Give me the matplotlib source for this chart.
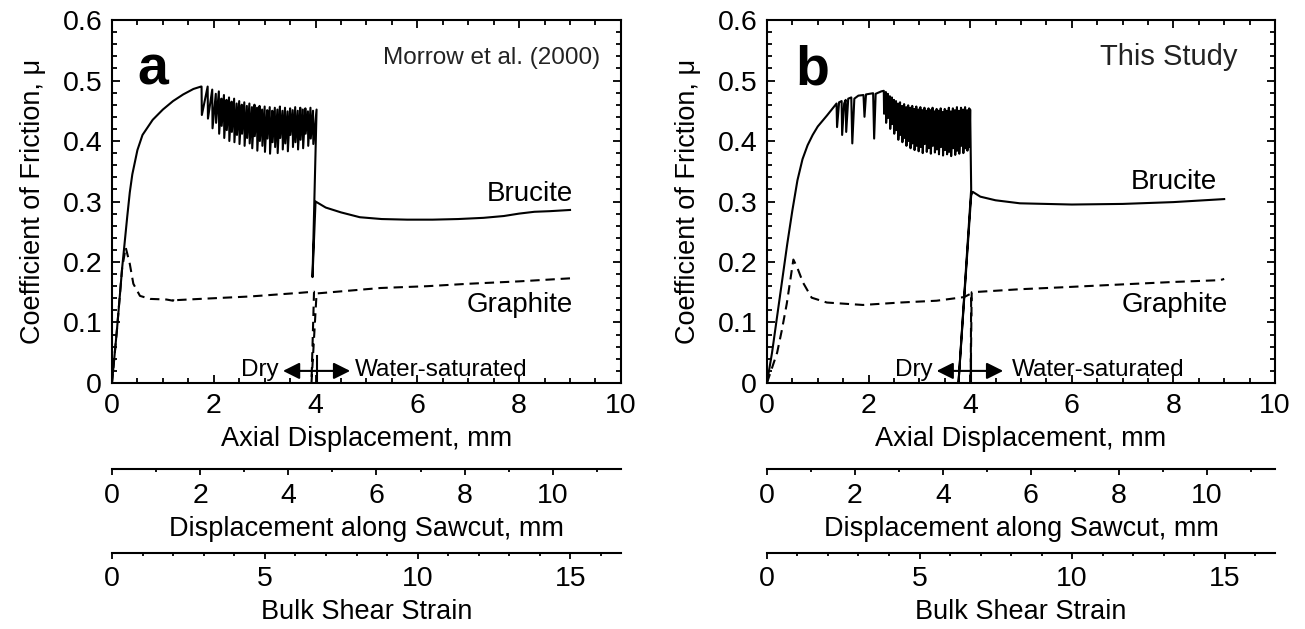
import matplotlib
matplotlib.use("Agg")
import matplotlib.pyplot as plt
import numpy as np
from matplotlib.ticker import MultipleLocator, FuncFormatter

plt.rcParams['font.family'] = ['Liberation Sans', 'DejaVu Sans']

# conversion factors for the extra scales under each panel
SAWCUT_PER_AXIAL = 1.0 / np.cos(np.radians(30))
STRAIN_PER_AXIAL = 1.665

# ---- panel a : Morrow et al. (2000) ----
A_BRU_DRY_X = [0.0, 0.1, 0.2, 0.3, 0.35, 0.4, 0.5, 0.6, 0.8, 1.0, 1.2, 1.4, 1.6, 1.75]
A_BRU_DRY_Y = [0.0, 0.09, 0.19, 0.275, 0.315, 0.345, 0.385, 0.41, 0.435, 0.452, 0.466, 0.477, 0.486, 0.49]

A_SLIP_X = [1.76, 1.88, 1.97, 2.04, 2.10, 2.15, 2.20, 2.25, 2.30, 2.35,
            2.40, 2.45, 2.50, 2.55, 2.60, 2.65, 2.70, 2.75, 2.80, 2.85,
            2.90, 2.95, 3.00, 3.05, 3.10, 3.15, 3.20, 3.25, 3.30, 3.35,
            3.40, 3.45, 3.50, 3.55, 3.60, 3.65, 3.70, 3.75, 3.80, 3.85,
            3.90, 3.95]
A_SLIP_TOP = [0.490, 0.490, 0.485, 0.478, 0.482, 0.470, 0.476, 0.468, 0.472, 0.465,
              0.470, 0.462, 0.466, 0.460, 0.464, 0.458, 0.462, 0.456, 0.460, 0.455,
              0.458, 0.452, 0.457, 0.451, 0.456, 0.450, 0.455, 0.452, 0.457, 0.450,
              0.455, 0.449, 0.454, 0.451, 0.456, 0.450, 0.455, 0.452, 0.454, 0.449,
              0.455, 0.450]
A_SLIP_LOW = [0.443, 0.437, 0.421, 0.430, 0.412, 0.425, 0.405, 0.418, 0.400, 0.415,
              0.398, 0.410, 0.395, 0.412, 0.392, 0.405, 0.396, 0.388, 0.408, 0.384,
              0.400, 0.392, 0.382, 0.404, 0.379, 0.398, 0.390, 0.380, 0.405, 0.386,
              0.396, 0.383, 0.410, 0.390, 0.398, 0.386, 0.402, 0.388, 0.412, 0.392,
              0.404, 0.395]

A_BRU_WET_X = [4.02, 3.94, 4.0, 4.2, 4.5, 4.87, 5.3, 5.8, 6.3, 6.8, 7.3, 7.7, 8.0, 8.3, 8.6, 9.0]
A_BRU_WET_Y = [0.452, 0.175, 0.30, 0.29, 0.282, 0.274, 0.271, 0.270, 0.270, 0.271, 0.273, 0.276, 0.280, 0.283, 0.284, 0.286]

A_GRA_X = [0.0, 0.1, 0.2, 0.27, 0.35, 0.42, 0.55, 0.75, 1.07, 1.2, 1.22, 1.27, 1.73, 2.71, 3.69, 3.97,
           3.92, 4.02, 5.27, 6.19, 7.0, 8.0, 9.0]
A_GRA_Y = [0.0, 0.09, 0.19, 0.224, 0.197, 0.164, 0.144, 0.139, 0.138, 0.136, 0.141, 0.137, 0.139, 0.143, 0.149, 0.151,
           0.0, 0.148, 0.157, 0.160, 0.164, 0.168, 0.173]

# ---- panel b : this study ----
B_BRU_DRY_X = [0.0, 0.1, 0.2, 0.3, 0.4, 0.5, 0.6, 0.7, 0.8, 0.9, 1.0, 1.18, 1.37]
B_BRU_DRY_Y = [0.0, 0.05, 0.11, 0.17, 0.23, 0.285, 0.335, 0.37, 0.393, 0.41, 0.424, 0.442, 0.462]

B_EARLY_X = [1.38, 1.42, 1.47, 1.48, 1.52, 1.55, 1.56, 1.60, 1.66, 1.68, 1.72, 1.80,
             1.90, 1.92, 1.95, 2.09, 2.11, 2.14, 2.25]
B_EARLY_Y = [0.423, 0.464, 0.466, 0.410, 0.462, 0.468, 0.415, 0.470, 0.472, 0.396, 0.470, 0.475,
             0.476, 0.440, 0.477, 0.479, 0.404, 0.478, 0.482]

B_SLIP_X = [2.30, 2.34, 2.38, 2.42, 2.46, 2.50, 2.54, 2.58, 2.62, 2.66,
            2.70, 2.74, 2.78, 2.82, 2.86, 2.90, 2.94, 2.98, 3.02, 3.06,
            3.10, 3.14, 3.18, 3.22, 3.26, 3.30, 3.34, 3.38, 3.42, 3.46,
            3.50, 3.54, 3.58, 3.62, 3.66, 3.70, 3.74, 3.78, 3.82, 3.86,
            3.90, 3.94, 3.98]
B_SLIP_TOP = [0.483, 0.481, 0.478, 0.474, 0.472, 0.468, 0.466, 0.462, 0.464, 0.458,
              0.461, 0.456, 0.459, 0.455, 0.458, 0.453, 0.457, 0.452, 0.456, 0.451,
              0.455, 0.450, 0.454, 0.451, 0.455, 0.449, 0.453, 0.450, 0.454, 0.448,
              0.453, 0.450, 0.455, 0.449, 0.454, 0.451, 0.456, 0.450, 0.455, 0.452,
              0.456, 0.451, 0.454]
B_SLIP_LOW = [0.445, 0.430, 0.438, 0.420, 0.428, 0.412, 0.418, 0.402, 0.410, 0.398,
              0.405, 0.392, 0.400, 0.388, 0.396, 0.385, 0.392, 0.383, 0.390, 0.380,
              0.395, 0.382, 0.388, 0.379, 0.392, 0.381, 0.386, 0.378, 0.390, 0.376,
              0.385, 0.378, 0.382, 0.375, 0.388, 0.377, 0.384, 0.379, 0.392, 0.380,
              0.388, 0.384, 0.390]

B_BRU_WET_X = [4.0, 4.02, 3.77, 4.02, 4.05, 4.2, 4.5, 4.98, 5.5, 6.0, 7.0, 8.0, 9.0]
B_BRU_WET_Y = [0.452, 0.32, 0.0, 0.31, 0.316, 0.308, 0.302, 0.297, 0.296, 0.295, 0.296, 0.299, 0.304]

B_GRA_X = [0.0, 0.1, 0.2, 0.29, 0.39, 0.52, 0.6, 0.71, 0.88, 1.18, 1.89, 2.62, 3.34, 3.88,
           4.02, 4.01, 4.03, 4.98, 5.77, 7.0, 8.0, 8.92, 9.0]
B_GRA_Y = [0.0, 0.025, 0.05, 0.086, 0.131, 0.204, 0.19, 0.166, 0.141, 0.133, 0.129, 0.133, 0.136, 0.142,
           0.148, 0.0, 0.15, 0.155, 0.158, 0.163, 0.167, 0.170, 0.172]


def stick_slip(xs, tops, lows):
    x, y = [], []
    for xi, top, low in zip(xs, tops, lows):
        x += [xi, xi + 0.006]
        y += [top, low]
    return x, y


def brucite_curve(dry_x, dry_y, extra_x, extra_y, slip, wet_x, wet_y):
    sx, sy = stick_slip(*slip)
    return (list(dry_x) + list(extra_x) + sx + list(wet_x),
            list(dry_y) + list(extra_y) + sy + list(wet_y))


def style_axes(ax):
    ax.set_xlim(0, 10)
    ax.set_ylim(0, 0.6)
    ax.xaxis.set_major_locator(MultipleLocator(2))
    ax.xaxis.set_minor_locator(MultipleLocator(0.5))
    ax.yaxis.set_major_locator(MultipleLocator(0.1))
    ax.yaxis.set_minor_locator(MultipleLocator(0.02))
    ax.yaxis.set_major_formatter(FuncFormatter(lambda v, p: '0' if abs(v) < 1e-9 else '%.1f' % v))
    ax.tick_params(which='both', direction='in', top=True, right=True, width=1.3, labelsize=20.5, pad=7)
    ax.tick_params(which='major', length=6)
    ax.tick_params(which='minor', length=3.3)
    for s in ax.spines.values():
        s.set_linewidth(1.5)
    ax.set_xlabel('Axial Displacement, mm', fontsize=19.5, labelpad=5)
    ax.set_ylabel('Coefficient of Friction, \u03bc', fontsize=19.5, labelpad=12)

    saw = ax.secondary_xaxis(-0.2376, functions=(lambda x: x * SAWCUT_PER_AXIAL,
                                                  lambda x: x / SAWCUT_PER_AXIAL))
    saw.set_xticks([0, 2, 4, 6, 8, 10])
    saw.xaxis.set_minor_locator(MultipleLocator(1))
    saw.set_xlabel('Displacement along Sawcut, mm', fontsize=19.5, labelpad=5)

    strain = ax.secondary_xaxis(-0.467, functions=(lambda x: x * STRAIN_PER_AXIAL,
                                                    lambda x: x / STRAIN_PER_AXIAL))
    strain.set_xticks([0, 5, 10, 15])
    strain.xaxis.set_minor_locator(MultipleLocator(1))
    strain.set_xlabel('Bulk Shear Strain', fontsize=19.5, labelpad=5)

    for sec in (saw, strain):
        sec.spines['bottom'].set_linewidth(1.5)
        sec.tick_params(which='both', direction='out', width=1.3, labelsize=20.5, pad=6)
        sec.tick_params(which='major', length=4)
        sec.tick_params(which='minor', length=2.5)


def dry_wet_marker(ax, left, right, bar, dry_end, wet_start):
    ax.annotate('', xy=(left, 0.02), xytext=(right, 0.02),
                arrowprops=dict(arrowstyle='<|-|>,head_length=0.5,head_width=0.25',
                                mutation_scale=20, color='black', lw=1.5,
                                shrinkA=0, shrinkB=0))
    ax.plot([bar, bar], [0, 0.045], color='black', lw=1.5)
    ax.text(dry_end, 0.022, 'Dry', ha='right', va='center', fontsize=17.5)
    ax.text(wet_start, 0.022, 'Water-saturated', ha='left', va='center', fontsize=17.5)


fig = plt.figure(figsize=(13.05, 6.29), dpi=100)
ax_a = fig.add_axes([0.0858, 0.3911, 0.3900, 0.5771])
ax_b = fig.add_axes([0.5877, 0.3911, 0.3893, 0.5771])

dash = (0, (4.5, 2.8))

bx, by = brucite_curve(A_BRU_DRY_X, A_BRU_DRY_Y, [], [],
                       (A_SLIP_X, A_SLIP_TOP, A_SLIP_LOW), A_BRU_WET_X, A_BRU_WET_Y)
ax_a.plot(bx, by, color='black', lw=1.5)
ax_a.plot(A_GRA_X, A_GRA_Y, color='black', lw=1.5, linestyle=dash)

bx, by = brucite_curve(B_BRU_DRY_X, B_BRU_DRY_Y, B_EARLY_X, B_EARLY_Y,
                       (B_SLIP_X, B_SLIP_TOP, B_SLIP_LOW), B_BRU_WET_X, B_BRU_WET_Y)
ax_b.plot(bx, by, color='black', lw=1.5)
ax_b.plot(B_GRA_X, B_GRA_Y, color='black', lw=1.5, linestyle=dash)

for ax in (ax_a, ax_b):
    style_axes(ax)

dry_wet_marker(ax_a, 3.36, 4.68, 4.03, 3.28, 4.77)
dry_wet_marker(ax_b, 3.34, 4.65, 4.02, 3.27, 4.82)

ax_a.text(0.5, 0.494, 'a', fontsize=40, fontweight='bold', ha='left', va='baseline')
ax_b.text(0.55, 0.494, 'b', fontsize=40, fontweight='bold', ha='left', va='baseline')
ax_a.text(9.59, 0.537, 'Morrow et al. (2000)', fontsize=17.5, ha='right', va='center', color='#222222')
ax_b.text(9.27, 0.539, 'This Study', fontsize=21, ha='right', va='center', color='#222222')

ax_a.text(9.06, 0.312, 'Brucite', fontsize=20, ha='right', va='center')
ax_a.text(9.06, 0.129, 'Graphite', fontsize=20, ha='right', va='center')
ax_b.text(8.86, 0.332, 'Brucite', fontsize=20, ha='right', va='center')
ax_b.text(9.07, 0.129, 'Graphite', fontsize=20, ha='right', va='center')

fig.savefig('out.png', dpi=100)
